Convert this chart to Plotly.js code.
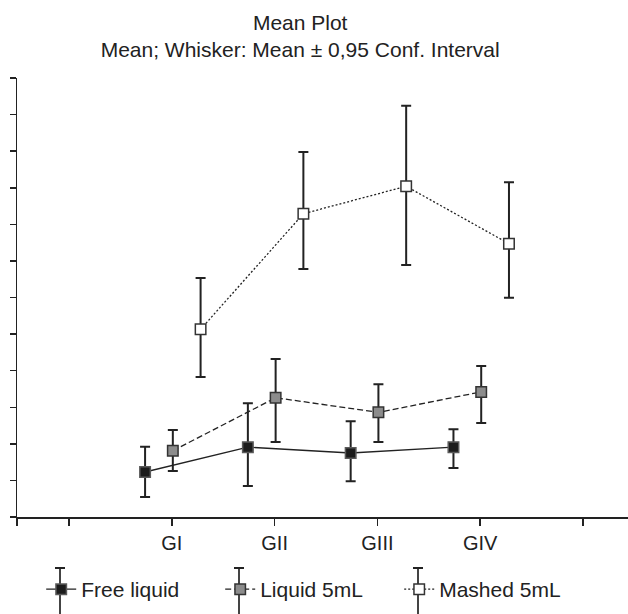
<!DOCTYPE html>
<html>
<head>
<meta charset="utf-8">
<script src="https://cdn.plot.ly/plotly-3.0.1.min.js"></script>
<style>html,body{margin:0;padding:0;background:#fff;}#chart{width:628px;height:614px;}</style>
</head>
<body>
<div id="chart"></div>
<script>
// ---- data ----
const categories = ['GI', 'GII', 'GIII', 'GIV'];
const seriesNames = ['Free liquid', 'Liquid 5mL', 'Mashed 5mL'];

const freeMean  = [1.23, 1.91, 1.75, 1.91];
const freeUpper = [1.92, 3.11, 2.62, 2.40];
const freeLower = [0.55, 0.85, 0.98, 1.34];

const liquidMean  = [1.81, 3.26, 2.86, 3.42];
const liquidUpper = [2.38, 4.32, 3.63, 4.13];
const liquidLower = [1.26, 2.05, 2.05, 2.57];

const mashedMean  = [5.13, 8.29, 9.04, 7.47];
const mashedUpper = [6.53, 9.98, 11.24, 9.15];
const mashedLower = [3.83, 6.78, 6.89, 5.99];

// ---- layout / style ----
const FONT = 'Liberation Sans, Arial, sans-serif';
const INK = '#222222';
const offsets = [-0.26, 0.01, 0.28];
const styles = [
  {dash: 'solid', fill: '#1c1c1c', edge: '#5a5a5a'},
  {dash: '6px,3px', fill: '#8c8c8c', edge: '#333333'},
  {dash: '2px,2px', fill: '#ffffff', edge: '#333333'}
];

const catPos = categories.map((c, i) => i + 1);

function makeTrace(k, mean, upper, lower) {
  const st = styles[k];
  return {
    type: 'scatter',
    mode: 'lines+markers',
    name: seriesNames[k],
    x: catPos.map(p => p + offsets[k]),
    y: mean,
    line: {color: INK, width: 1.3, dash: st.dash},
    marker: {symbol: 'square', size: 10.5, color: st.fill, line: {color: st.edge, width: 1.5}},
    error_y: {
      type: 'data', symmetric: false,
      array: upper.map((u, i) => u - mean[i]),
      arrayminus: mean.map((m, i) => m - lower[i]),
      color: INK, thickness: 2, width: 5
    },
    hoverinfo: 'skip'
  };
}

const traces = [
  makeTrace(0, freeMean, freeUpper, freeLower),
  makeTrace(1, liquidMean, liquidUpper, liquidLower),
  makeTrace(2, mashedMean, mashedUpper, mashedLower)
];

const xMin = -0.506, xMax = 5.438;

// plot-area geometry (pixels) used to place legend whiskers in paper units
const M = {l: 17, r: 0, t: 78, b: 97};
const W = 628, H = 614;
const pw = W - M.l - M.r, ph = H - M.t - M.b;
const legendFirstPx = 60, legendStepPx = 179;
const whiskTopPx = 568, whiskBotPx = 625;
const px2x = px => (px - M.l) / pw;
const py2y = py => (H - M.b - py) / ph;

const shapes = [];
seriesNames.forEach((n, k) => {
  const cx = legendFirstPx + k * legendStepPx;
  shapes.push({type: 'line', xref: 'paper', yref: 'paper',
    x0: px2x(cx), x1: px2x(cx), y0: py2y(whiskTopPx), y1: py2y(whiskBotPx),
    line: {color: '#444', width: 2}});
  shapes.push({type: 'line', xref: 'paper', yref: 'paper',
    x0: px2x(cx - 5), x1: px2x(cx + 5), y0: py2y(whiskTopPx), y1: py2y(whiskTopPx),
    line: {color: INK, width: 2}});
});

const layout = {
  width: W, height: H,
  margin: M,
  paper_bgcolor: '#ffffff', plot_bgcolor: '#ffffff',
  font: {family: FONT, size: 20, color: INK},
  title: {
    text: 'Mean Plot<br>Mean; Whisker: Mean ± 0,95 Conf. Interval',
    font: {family: FONT, size: 21, color: INK},
    xref: 'container', x: 0.478, xanchor: 'center',
    yref: 'container', y: 0.951, yanchor: 'top'
  },
  xaxis: {
    range: [xMin, xMax],
    tickmode: 'array',
    tickvals: [xMin, 0].concat(catPos, [categories.length + 1]),
    ticktext: ['', ''].concat(categories, ['']),
    ticks: 'outside', ticklen: 7, tickwidth: 1.5, tickcolor: INK,
    showline: true, linecolor: INK, linewidth: 1.5,
    showgrid: false, zeroline: false,
    tickfont: {family: FONT, size: 20, color: INK}
  },
  yaxis: {
    range: [0, 12], dtick: 1, tick0: 0,
    ticks: 'outside', ticklen: 6, tickwidth: 1.5, tickcolor: INK,
    showticklabels: false,
    showline: true, linecolor: INK, linewidth: 1.5,
    showgrid: false, zeroline: false
  },
  shapes: shapes,
  showlegend: true,
  legend: {
    orientation: 'h',
    x: 0.0396, xanchor: 'left',
    y: -0.1186, yanchor: 'top',
    font: {family: FONT, size: 21, color: INK},
    entrywidth: 134, entrywidthmode: 'pixels',
    bgcolor: 'rgba(0,0,0,0)'
  }
};

Plotly.newPlot('chart', traces, layout, {displayModeBar: false, staticPlot: true});
</script>
</body>
</html>
